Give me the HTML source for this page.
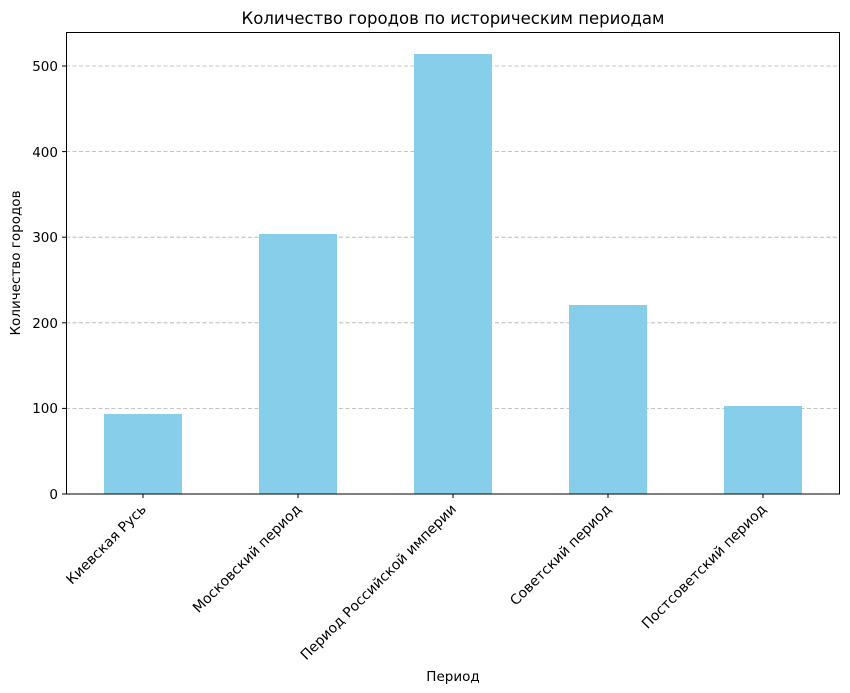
<!DOCTYPE html>
<html><head><meta charset="utf-8"><style>body{margin:0;background:#fff}svg{display:block}text{font-family:"DejaVu Sans","Liberation Sans",sans-serif;fill:#000}</style></head>
<body>
<svg width="850" height="693" viewBox="0 0 850 693" xmlns="http://www.w3.org/2000/svg">
<rect width="850" height="693" fill="#fff"/>
<g stroke="#b0b0b0" stroke-dasharray="4,2.5" stroke-width="0.8">
<line x1="66" x2="840" y1="408.4" y2="408.4"/>
<line x1="66" x2="840" y1="322.8" y2="322.8"/>
<line x1="66" x2="840" y1="237.2" y2="237.2"/>
<line x1="66" x2="840" y1="151.6" y2="151.6"/>
<line x1="66" x2="840" y1="66" y2="66"/>
</g>
<g fill="#87ceeb">
<rect x="104" y="414" width="78" height="80"/>
<rect x="259" y="234" width="78" height="260"/>
<rect x="414" y="54" width="78" height="440"/>
<rect x="569" y="305" width="78" height="189"/>
<rect x="724" y="406" width="78" height="88"/>
</g>
<rect x="66.5" y="32.5" width="773" height="461.5" fill="none" stroke="#000" stroke-width="1"/>
<g stroke="#000">
<line x1="62" x2="66" y1="494" y2="494"/><line x1="62" x2="66" y1="408.4" y2="408.4"/>
<line x1="62" x2="66" y1="322.8" y2="322.8"/><line x1="62" x2="66" y1="237.2" y2="237.2"/>
<line x1="62" x2="66" y1="151.6" y2="151.6"/><line x1="62" x2="66" y1="66" y2="66"/>
<line x1="143" x2="143" y1="494" y2="498"/><line x1="298" x2="298" y1="494" y2="498"/>
<line x1="453" x2="453" y1="494" y2="498"/><line x1="608" x2="608" y1="494" y2="498"/>
<line x1="763" x2="763" y1="494" y2="498"/>
</g>
<g font-size="13.5" text-anchor="end">
<text x="58" y="499">0</text><text x="58" y="413">100</text><text x="58" y="328">200</text>
<text x="58" y="242">300</text><text x="58" y="157">400</text><text x="58" y="71">500</text>
</g>
<g font-size="14" text-anchor="end">
<text transform="translate(147,510) rotate(-45)">Киевская Русь</text>
<text transform="translate(302,510) rotate(-45)">Московский период</text>
<text transform="translate(457,510) rotate(-45)">Период Российской империи</text>
<text transform="translate(612,510) rotate(-45)">Советский период</text>
<text transform="translate(767,510) rotate(-45)">Постсоветский период</text>
</g>
<text x="453" y="681" font-size="13.5" text-anchor="middle">Период</text>
<text transform="translate(20,263) rotate(-90)" font-size="13.5" text-anchor="middle">Количество городов</text>
<text x="453" y="24" font-size="16.5" text-anchor="middle">Количество городов по историческим периодам</text>
</svg>
</body></html>
